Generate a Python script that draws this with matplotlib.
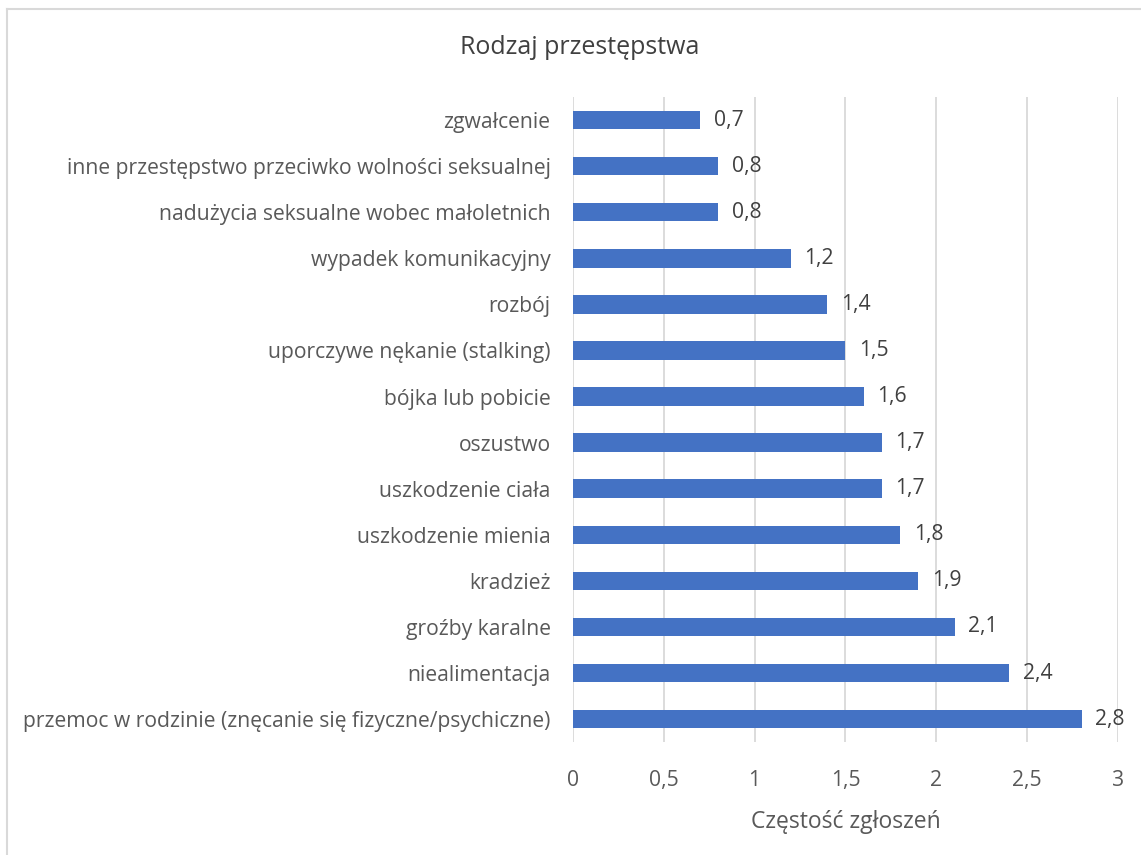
import matplotlib.pyplot as plt
from matplotlib.lines import Line2D

# data, top to bottom as shown
categories = [
    'zgwałcenie',
    'inne przestępstwo przeciwko wolności seksualnej',
    'nadużycia seksualne wobec małoletnich',
    'wypadek komunikacyjny',
    'rozbój',
    'uporczywe nękanie (stalking)',
    'bójka lub pobicie',
    'oszustwo',
    'uszkodzenie ciała',
    'uszkodzenie mienia',
    'kradzież',
    'groźby karalne',
    'niealimentacja',
    'przemoc w rodzinie (znęcanie się fizyczne/psychiczne)',
]
values = [0.7, 0.8, 0.8, 1.2, 1.4, 1.5, 1.6, 1.7, 1.7, 1.8, 1.9, 2.1, 2.4, 2.8]
xticks = [0, 0.5, 1, 1.5, 2, 2.5, 3]
xtick_labels = ['0', '0,5', '1', '1,5', '2', '2,5', '3']

plt.rcParams['font.family'] = ['Open Sans', 'DejaVu Sans']
txt = '#595959'

fig = plt.figure(figsize=(11.41, 8.55), dpi=100)
ax = fig.add_axes([0.502, 0.132, 0.478, 0.7545])

ypos = list(range(len(categories)))
ax.barh(ypos, values, height=0.4, color='#4472c4', zorder=3)
ax.set_ylim(len(categories) - 0.5, -0.5)
ax.set_xlim(0, 3)

ax.set_yticks(ypos)
ax.set_yticklabels(categories, fontsize=15.2, color=txt)
ax.set_xticks(xticks)
ax.set_xticklabels(xtick_labels, fontsize=15.2, color=txt)
ax.tick_params(length=0)
ax.tick_params(axis='x', pad=20)
ax.tick_params(axis='y', pad=16)

ax.grid(axis='x', color='#d9d9d9', linewidth=1.3, zorder=0)
for s in ax.spines.values():
    s.set_visible(False)

for y, v in zip(ypos, values):
    ax.text(v + 0.075, y, f'{v:.1f}'.replace('.', ','), va='center', ha='left',
            fontsize=15.2, color='#404040')

ax.set_xlabel('Częstość zgłoszeń', fontsize=16.5, color=txt, labelpad=14)
fig.text(0.508, 0.945, 'Rodzaj przestępstwa', ha='center', va='center',
         fontsize=18, color='#404040')

# chart border (top and left edges visible)
fig.add_artist(Line2D([0.0065, 1], [0.9895, 0.9895], color='#d9d9d9', lw=1.5))
fig.add_artist(Line2D([0.0065, 0.0065], [0, 0.9895], color='#d9d9d9', lw=1.5))

fig.savefig('out.png', dpi=100)
